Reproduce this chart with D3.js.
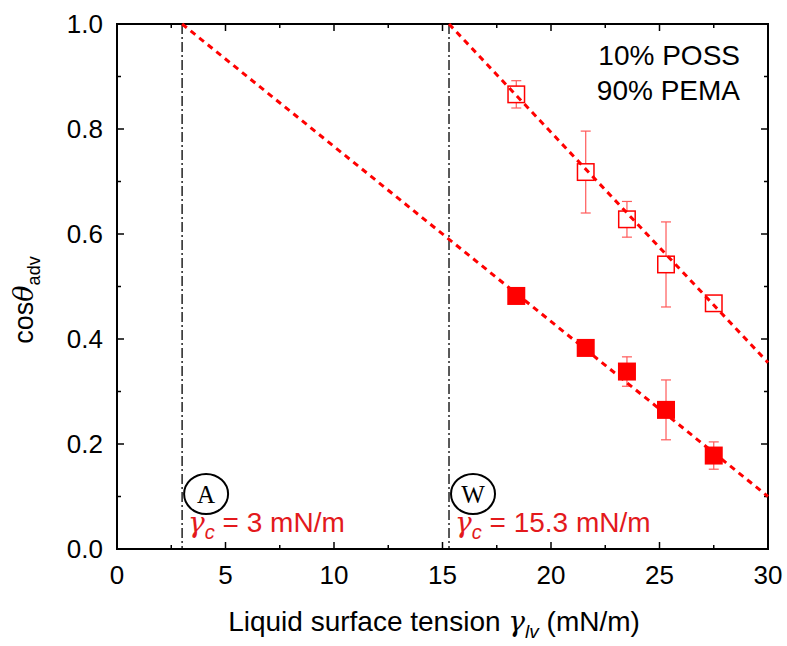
<!DOCTYPE html>
<html>
<head>
<meta charset="utf-8">
<script src="https://cdn.jsdelivr.net/npm/d3@7"></script>
<style>
  body { margin: 0; background: #fff; }
  svg text { font-family: "Liberation Sans", Arial, sans-serif; }
</style>
</head>
<body>
<svg id="chart" width="787" height="646"></svg>
<script>
// data
var xTicks = [0, 5, 10, 15, 20, 25, 30];
var yTicks = [0.0, 0.2, 0.4, 0.6, 0.8, 1.0];

var tension = [18.4, 21.6, 23.5, 25.3, 27.5];          // gamma_lv, mN/m
var openCos = [0.866, 0.718, 0.628, 0.542, 0.468];     // open squares
var openErr = [0.026, 0.078, 0.034, 0.081, 0.006];
var filledCos = [0.482, 0.383, 0.338, 0.265, 0.178];   // filled squares
var filledErr = [0.0, 0.0, 0.028, 0.057, 0.026];

// fitted lines (start -> end)
var fitFilled = [[3, 1.0], [30, 0.1]];
var fitOpen = [[15.3, 1.0], [30, 0.355]];

var criticalX = [3, 15.3];
var criticalLabel = ["A", "W"];
var criticalText = ["= 3 mN/m", "= 15.3 mN/m"];

var red = "#ff0000", redText = "#e3191c";

var svg = d3.select("#chart");
var m = {left: 117, right: 768, top: 24, bottom: 549};

var x = d3.scaleLinear().domain([0, 30]).range([m.left, m.right]);
var y = d3.scaleLinear().domain([0, 1]).range([m.bottom, m.top]);

// frame
svg.append("rect")
    .attr("x", m.left).attr("y", m.top)
    .attr("width", m.right - m.left).attr("height", m.bottom - m.top)
    .attr("fill", "none").attr("stroke", "#000").attr("stroke-width", 2);

// ticks pointing inwards on all four sides
function drawXTick(v, len) {
    svg.append("line").attr("x1", x(v)).attr("x2", x(v))
        .attr("y1", m.bottom).attr("y2", m.bottom - len)
        .attr("stroke", "#000").attr("stroke-width", 1.5);
    svg.append("line").attr("x1", x(v)).attr("x2", x(v))
        .attr("y1", m.top).attr("y2", m.top + len)
        .attr("stroke", "#000").attr("stroke-width", 1.5);
}
function drawYTick(v, len) {
    svg.append("line").attr("y1", y(v)).attr("y2", y(v))
        .attr("x1", m.left).attr("x2", m.left + len)
        .attr("stroke", "#000").attr("stroke-width", 1.5);
    svg.append("line").attr("y1", y(v)).attr("y2", y(v))
        .attr("x1", m.right).attr("x2", m.right - len)
        .attr("stroke", "#000").attr("stroke-width", 1.5);
}
xTicks.forEach(function(v) { drawXTick(v, 7); });
xTicks.slice(0, -1).forEach(function(v) { drawXTick(v + 2.5, 4); });
yTicks.forEach(function(v) { drawYTick(v, 7); });
yTicks.slice(0, -1).forEach(function(v) { drawYTick(v + 0.1, 4); });

// tick labels
svg.selectAll(".xl").data(xTicks).enter().append("text")
    .attr("x", function(d) { return x(d); })
    .attr("y", 584)
    .attr("text-anchor", "middle")
    .attr("font-size", 26)
    .text(function(d) { return d; });

svg.selectAll(".yl").data(yTicks).enter().append("text")
    .attr("x", 103)
    .attr("y", function(d) { return y(d) + 9; })
    .attr("text-anchor", "end")
    .attr("font-size", 26)
    .text(function(d) { return d.toFixed(1); });

// axis titles
var xt = svg.append("text")
    .attr("x", 434).attr("y", 631)
    .attr("text-anchor", "middle")
    .attr("font-size", 28);
xt.append("tspan").text("Liquid surface tension ");
xt.append("tspan").style("font-family", "DejaVu Serif, serif").attr("font-style", "italic").text("γ");
xt.append("tspan").attr("font-style", "italic").attr("font-size", 19).attr("dy", 7).text("lv");
xt.append("tspan").attr("dy", -7).text(" (mN/m)");

var yt = svg.append("text")
    .attr("transform", "translate(33,300) rotate(-90)")
    .attr("text-anchor", "middle")
    .attr("font-size", 27);
yt.append("tspan").text("cos");
yt.append("tspan").style("font-family", "DejaVu Serif, serif").attr("font-style", "italic").text("θ");
yt.append("tspan").attr("font-size", 18).attr("dy", 7).text("adv");

// vertical dash-dot lines at critical surface tensions
svg.selectAll(".crit").data(criticalX).enter().append("line")
    .attr("x1", function(d) { return x(d); })
    .attr("x2", function(d) { return x(d); })
    .attr("y1", m.top).attr("y2", m.bottom)
    .attr("stroke", "#000").attr("stroke-width", 1.3)
    .attr("stroke-dasharray", "10,3,2,3");

// error bars
function errBars(vals, errs) {
    tension.forEach(function(t, i) {
        if (!errs[i]) return;
        var g = svg.append("g").attr("stroke", "#ff5a5a").attr("stroke-width", 1.2);
        g.append("line").attr("x1", x(t)).attr("x2", x(t))
            .attr("y1", y(vals[i] - errs[i])).attr("y2", y(vals[i] + errs[i]));
        [vals[i] - errs[i], vals[i] + errs[i]].forEach(function(v) {
            g.append("line").attr("x1", x(t) - 5).attr("x2", x(t) + 5)
                .attr("y1", y(v)).attr("y2", y(v));
        });
    });
}
errBars(openCos, openErr);
errBars(filledCos, filledErr);

// markers
var sz = 18;
svg.selectAll(".open").data(tension).enter().append("rect")
    .attr("x", function(d) { return x(d) - sz / 2 + 0.75; })
    .attr("y", function(d, i) { return y(openCos[i]) - sz / 2 + 0.75; })
    .attr("width", sz - 1.5).attr("height", sz - 1.5)
    .attr("fill", "#fff").attr("stroke", red).attr("stroke-width", 1.5);

svg.selectAll(".filled").data(tension).enter().append("rect")
    .attr("x", function(d) { return x(d) - sz / 2; })
    .attr("y", function(d, i) { return y(filledCos[i]) - sz / 2; })
    .attr("width", sz).attr("height", sz)
    .attr("fill", red);

// fitted lines, on top of the markers
var line = d3.line().x(function(d) { return x(d[0]); }).y(function(d) { return y(d[1]); });
[fitFilled, fitOpen].forEach(function(f) {
    svg.append("path").attr("d", line(f))
        .attr("fill", "none").attr("stroke", red)
        .attr("stroke-width", 3).attr("stroke-dasharray", "6,5");
});

// legend text
svg.append("text").attr("x", 740).attr("y", 65).attr("text-anchor", "end")
    .attr("font-size", 28).text("10% POSS");
svg.append("text").attr("x", 740).attr("y", 100).attr("text-anchor", "end")
    .attr("font-size", 28).text("90% PEMA");

// circled labels and gamma_c annotations
criticalX.forEach(function(c, i) {
    var cx = x(c) + 24, cy = 494;
    svg.append("ellipse").attr("cx", cx).attr("cy", cy).attr("rx", 22).attr("ry", 20)
        .attr("fill", "none").attr("stroke", "#000").attr("stroke-width", 2);
    svg.append("text").attr("x", cx).attr("y", cy + 9)
        .attr("text-anchor", "middle")
        .style("font-family", "Liberation Serif, serif")
        .attr("font-size", 25).text(criticalLabel[i]);

    var t = svg.append("text").attr("x", x(c) + 6).attr("y", 532)
        .attr("fill", redText).attr("font-size", 28);
    t.append("tspan").style("font-family", "DejaVu Serif, serif").attr("font-style", "italic")
        .text("γ");
    t.append("tspan").attr("font-style", "italic").attr("font-size", 20).attr("dy", 7).text("c");
    t.append("tspan").attr("dy", -7).text(" " + criticalText[i]);
});
</script>
</body>
</html>
